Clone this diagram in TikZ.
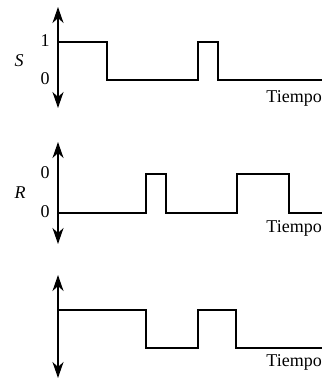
\documentclass[tikz,border=0pt]{standalone}
\usepackage{fontspec}
\setmainfont{Liberation Serif}
\usetikzlibrary{arrows.meta}
\begin{document}
\begin{tikzpicture}[x=1pt,y=-1pt,
  axis/.style={line width=1.9pt,{Stealth[length=16pt,width=11pt,inset=5pt]}-{Stealth[length=16pt,width=11pt,inset=5pt]}},
  sig/.style={line width=1.3pt,line join=miter},
  lbl/.style={font=\fontsize{18}{20}\selectfont,inner sep=0pt},
  tlbl/.style={font=\fontsize{18}{20}\selectfont,inner sep=0pt,anchor=east}]
\useasboundingbox (0,0) rectangle (323,380);
% panel S
\coordinate (s1t) at (58,7);
\coordinate (s1b) at (58,108);
\draw[axis] (s1b) -- (s1t);
\draw[sig] (58,42) -- (107,42) -- (107,80) -- (198,80) -- (198,42) -- (218,42) -- (218,80) -- (322,80);
\node[lbl] (one1) at (45,41) {1};
\node[lbl] (zero1) at (45,79) {0};
\node[lbl] (S) at (19,61) {\textit{S}};
\node[tlbl] (t1) at (322,98) {Tiempo};
% panel R
\coordinate (s2t) at (58,142);
\coordinate (s2b) at (58,244);
\draw[axis] (s2b) -- (s2t);
\draw[sig] (58,213) -- (146,213) -- (146,174) -- (166,174) -- (166,213) -- (237,213) -- (237,174) -- (289,174) -- (289,213) -- (322,213);
\node[lbl] (zero2a) at (45,173) {0};
\node[lbl] (zero2b) at (45,212) {0};
\node[lbl] (R) at (20,193) {\textit{R}};
\node[tlbl] (t2) at (322,228) {Tiempo};
% panel 3
\coordinate (s3t) at (58,275);
\coordinate (s3b) at (58,378);
\draw[axis] (s3b) -- (s3t);
\draw[sig] (58,310) -- (146,310) -- (146,348) -- (198,348) -- (198,310) -- (236,310) -- (236,348) -- (322,348);
\node[tlbl] (t3) at (322,362) {Tiempo};
\end{tikzpicture}
\end{document}
